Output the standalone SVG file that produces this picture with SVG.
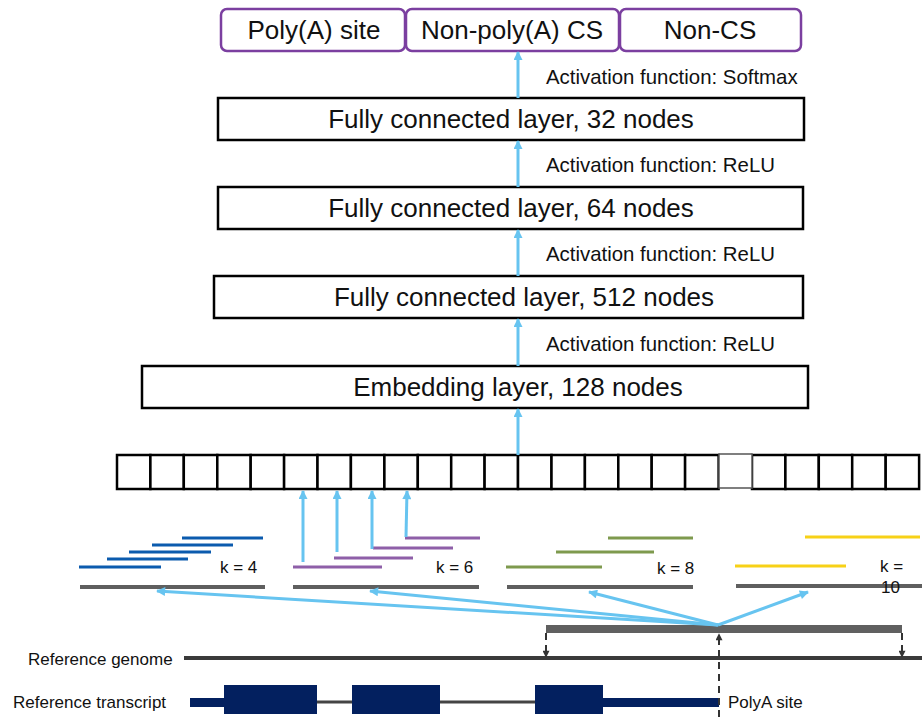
<svg xmlns="http://www.w3.org/2000/svg" width="922" height="717" viewBox="0 0 922 717">
<defs>
<style>
text{font-family:"Liberation Sans",Arial,sans-serif;fill:#111}
.big{font-size:26px;text-anchor:middle}
.act{font-size:20.4px}
.sm{font-size:17px}
.cls{fill:#fff;stroke:#7B3FA0;stroke-width:2.5}
.layer{fill:#fff;stroke:#000;stroke-width:2.5}
.cell{fill:#fff;stroke:#000;stroke-width:2.5}
.blue{stroke:#67C4F0;stroke-width:3;fill:none}
.seg{stroke:#5f5f5f;stroke-width:4}
.k4{stroke:#0B5BAE;stroke-width:3}
.k6{stroke:#8E5FA8;stroke-width:3}
.k8{stroke:#7E9A4E;stroke-width:3}
.k10{stroke:#F7D117;stroke-width:3}
.dash{stroke:#333;stroke-width:2;stroke-dasharray:7 5;fill:none}
.navy{fill:#03205F}
</style>
<marker id="ah" viewBox="0 0 10 10" refX="9" refY="5" markerWidth="10" markerHeight="9" markerUnits="userSpaceOnUse" orient="auto">
<path d="M0,0 L10,5 L0,10 z" fill="#67C4F0"/>
</marker>
<marker id="dk" viewBox="0 0 10 10" refX="9" refY="5" markerWidth="8" markerHeight="7" markerUnits="userSpaceOnUse" orient="auto">
<path d="M0,0 L10,5 L0,10 z" fill="#333"/>
</marker>
</defs>
<rect width="922" height="717" fill="#fff"/>

<g id="out-polya"><rect class="cls" x="221" y="9" width="184" height="42" rx="6"/><text class="big" x="314" y="39">Poly(A) site</text></g>
<g id="out-nonpolya"><rect class="cls" x="406" y="9" width="213" height="42" rx="6"/><text class="big" x="512" y="39">Non-poly(A) CS</text></g>
<g id="out-noncs"><rect class="cls" x="620" y="9" width="181" height="42" rx="6"/><text class="big" x="710" y="39">Non-CS</text></g>

<g id="fc32"><rect class="layer" x="218" y="98" width="586" height="42"/><text class="big" x="511" y="128">Fully connected layer, 32 nodes</text></g>
<g id="fc64"><rect class="layer" x="218" y="187" width="585" height="42"/><text class="big" x="511" y="217">Fully connected layer, 64 nodes</text></g>
<g id="fc512"><rect class="layer" x="214" y="276" width="589" height="42"/><text class="big" x="524" y="306">Fully connected layer, 512 nodes</text></g>
<g id="embed"><rect class="layer" x="142" y="366" width="666" height="42"/><text class="big" x="518" y="396">Embedding layer, 128 nodes</text></g>

<g id="labels">
<text class="act" x="546" y="84">Activation function: Softmax</text>
<text class="act" x="546" y="172">Activation function: ReLU</text>
<text class="act" x="546" y="261">Activation function: ReLU</text>
<text class="act" x="546" y="351">Activation function: ReLU</text>
</g>

<g id="cells">
<rect class="cell" x="117" y="455" width="33.4" height="34"/>
<rect class="cell" x="150.4" y="455" width="33.4" height="34"/>
<rect class="cell" x="183.8" y="455" width="33.5" height="34"/>
<rect class="cell" x="217.3" y="455" width="33.4" height="34"/>
<rect class="cell" x="250.7" y="455" width="33.4" height="34"/>
<rect class="cell" x="284.1" y="455" width="33.4" height="34"/>
<rect class="cell" x="317.5" y="455" width="33.4" height="34"/>
<rect class="cell" x="350.9" y="455" width="33.5" height="34"/>
<rect class="cell" x="384.4" y="455" width="33.4" height="34"/>
<rect class="cell" x="417.8" y="455" width="33.4" height="34"/>
<rect class="cell" x="451.2" y="455" width="33.4" height="34"/>
<rect class="cell" x="484.6" y="455" width="33.4" height="34"/>
<rect class="cell" x="518" y="455" width="33.5" height="34"/>
<rect class="cell" x="551.5" y="455" width="33.4" height="34"/>
<rect class="cell" x="584.9" y="455" width="33.4" height="34"/>
<rect class="cell" x="618.3" y="455" width="33.4" height="34"/>
<rect class="cell" x="651.7" y="455" width="33.4" height="34"/>
<rect class="cell" x="685.1" y="455" width="33.5" height="34"/>
<rect class="cell" x="752" y="455" width="33.4" height="34"/>
<rect class="cell" x="785.4" y="455" width="33.4" height="34"/>
<rect class="cell" x="818.8" y="455" width="33.4" height="34"/>
<rect class="cell" x="852.2" y="455" width="33.5" height="34"/>
<rect class="cell" x="885.7" y="455" width="33.4" height="34"/>
<rect x="719" y="454" width="33" height="34" fill="#fff" stroke="#555" stroke-width="1.5"/>
</g>

<g id="kmers">
<line class="seg" x1="80" y1="587" x2="265" y2="587"/>
<line class="seg" x1="293" y1="587" x2="479" y2="587"/>
<line class="seg" x1="507" y1="587" x2="693" y2="587"/>
<line class="seg" x1="736" y1="586" x2="922" y2="586"/>
<line class="k4" x1="79" y1="567" x2="161" y2="567"/>
<line class="k4" x1="107" y1="559" x2="188" y2="559"/>
<line class="k4" x1="129" y1="552" x2="211" y2="552"/>
<line class="k4" x1="152" y1="545" x2="233" y2="545"/>
<line class="k4" x1="182" y1="538" x2="263" y2="538"/>
<line class="k6" x1="293" y1="567" x2="382" y2="567"/>
<line class="k6" x1="334" y1="558" x2="413" y2="558"/>
<line class="k6" x1="373" y1="548" x2="453" y2="548"/>
<line class="k6" x1="405" y1="538" x2="480" y2="538"/>
<line class="k8" x1="506" y1="567" x2="602" y2="567"/>
<line class="k8" x1="556" y1="552" x2="654" y2="552"/>
<line class="k8" x1="608" y1="538" x2="693" y2="538"/>
<line class="k10" x1="735" y1="566" x2="846" y2="566"/>
<line class="k10" x1="805" y1="537" x2="920" y2="537"/>
<text class="sm" x="220" y="573">k = 4</text>
<text class="sm" x="436" y="573">k = 6</text>
<text class="sm" x="657" y="574">k = 8</text>
<text class="sm" x="880" y="572">k =</text>
<text class="sm" x="881" y="593">10</text>
</g>

<g id="genome">
<rect x="546" y="625" width="356" height="8" fill="#606060"/>
<line x1="184" y1="658" x2="922" y2="658" stroke="#3a3a3a" stroke-width="4"/>
<text class="sm" x="28" y="665">Reference genome</text>
</g>

<g id="transcript">
<line x1="224" y1="702" x2="535" y2="702" stroke="#444" stroke-width="3"/>
<rect class="navy" x="190" y="698" width="34" height="9"/>
<rect class="navy" x="224" y="685" width="93" height="29"/>
<rect class="navy" x="352" y="685" width="88" height="29"/>
<rect class="navy" x="535" y="685" width="68" height="29"/>
<rect class="navy" x="603" y="698" width="116" height="9"/>
<text class="sm" x="13" y="708">Reference transcript</text>
<text class="sm" x="728" y="708">PolyA site</text>
</g>

<g id="connectors">
<line class="blue" x1="518" y1="98" x2="518" y2="52" marker-end="url(#ah)"/>
<line class="blue" x1="518" y1="187" x2="518" y2="141" marker-end="url(#ah)"/>
<line class="blue" x1="518" y1="276" x2="518" y2="230" marker-end="url(#ah)"/>
<line class="blue" x1="518" y1="366" x2="518" y2="319" marker-end="url(#ah)"/>
<line class="blue" x1="518" y1="455" x2="518" y2="409" marker-end="url(#ah)"/>
<line class="blue" x1="303" y1="562" x2="303" y2="491" marker-end="url(#ah)"/>
<line class="blue" x1="337" y1="552" x2="337" y2="491" marker-end="url(#ah)"/>
<line class="blue" x1="372" y1="549" x2="372" y2="491" marker-end="url(#ah)"/>
<line class="blue" x1="406" y1="537" x2="407" y2="491" marker-end="url(#ah)"/>
<line class="blue" x1="718" y1="625" x2="157" y2="591" marker-end="url(#ah)"/>
<line class="blue" x1="718" y1="625" x2="370" y2="591" marker-end="url(#ah)"/>
<line class="blue" x1="718" y1="625" x2="589" y2="592" marker-end="url(#ah)"/>
<line class="blue" x1="718" y1="625" x2="808" y2="592" marker-end="url(#ah)"/>
<line class="dash" x1="719" y1="717" x2="719" y2="634" marker-end="url(#dk)"/>
<line class="dash" x1="546" y1="633" x2="546" y2="657" marker-end="url(#dk)"/>
<line class="dash" x1="902" y1="633" x2="902" y2="657" marker-end="url(#dk)"/>
</g>
</svg>
